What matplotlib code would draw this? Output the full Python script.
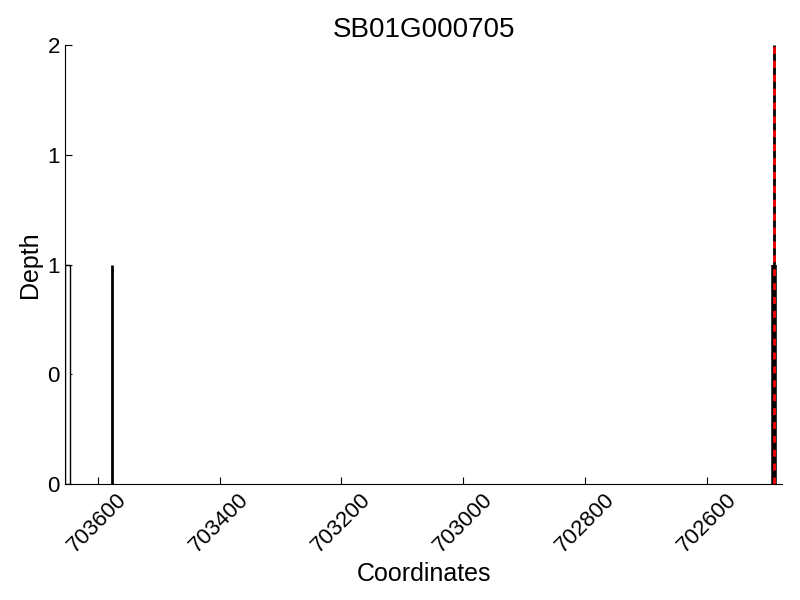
import matplotlib
matplotlib.use("Agg")
import matplotlib.pyplot as plt
from matplotlib.ticker import FormatStrFormatter

plt.rcParams["font.family"] = ["Liberation Sans", "DejaVu Sans"]

GENE = "SB01G000705"

# coverage bars: left position, width, depth
bar_x = [703653]
bar_w = [-8]
bar_h = [1]

# single-position read depth spikes
spike_x = [703577, 702490, 702490]
spike_h = [1, 2, 1]
spike_lw = [2.0, 2.0, 4.0]

# feature marker (red dashed)
mark_x = [702490]
mark_h = [2]

xlim = (703654, 702476)
xticks = [703600, 703400, 703200, 703000, 702800, 702600]
yticks = [0, 0.5, 1, 1.5, 2]

fig = plt.figure(figsize=(8, 6), dpi=100)
ax = fig.add_axes([0.081, 0.193, 0.897, 0.732])

ax.bar(bar_x, bar_h, width=bar_w, align="edge", color="white",
       edgecolor="black", linewidth=1.0, zorder=2)
for x, h, lw in zip(spike_x, spike_h, spike_lw):
    ax.vlines(x, 0, h, color="black", lw=lw, zorder=3)
for x, h in zip(mark_x, mark_h):
    ax.vlines(x, 0, h, color="red", lw=2, linestyles=(0, (2.5, 2.5)), zorder=4)

ax.set_xlim(*xlim)
ax.set_ylim(0, 2)
ax.set_xticks(xticks)
ax.set_xticklabels([str(t) for t in xticks], rotation=45, ha="center",
                   fontsize=16)
ax.set_yticks(yticks)
ax.yaxis.set_major_formatter(FormatStrFormatter("%d"))
ax.tick_params(direction="in", length=5, labelsize=16)
ax.spines["top"].set_visible(False)
ax.spines["right"].set_visible(False)
ax.set_xlabel("Coordinates", fontsize=18)
ax.set_ylabel("Depth", fontsize=18)
ax.set_title(GENE, fontsize=20)

fig.savefig("out.png", dpi=100)
